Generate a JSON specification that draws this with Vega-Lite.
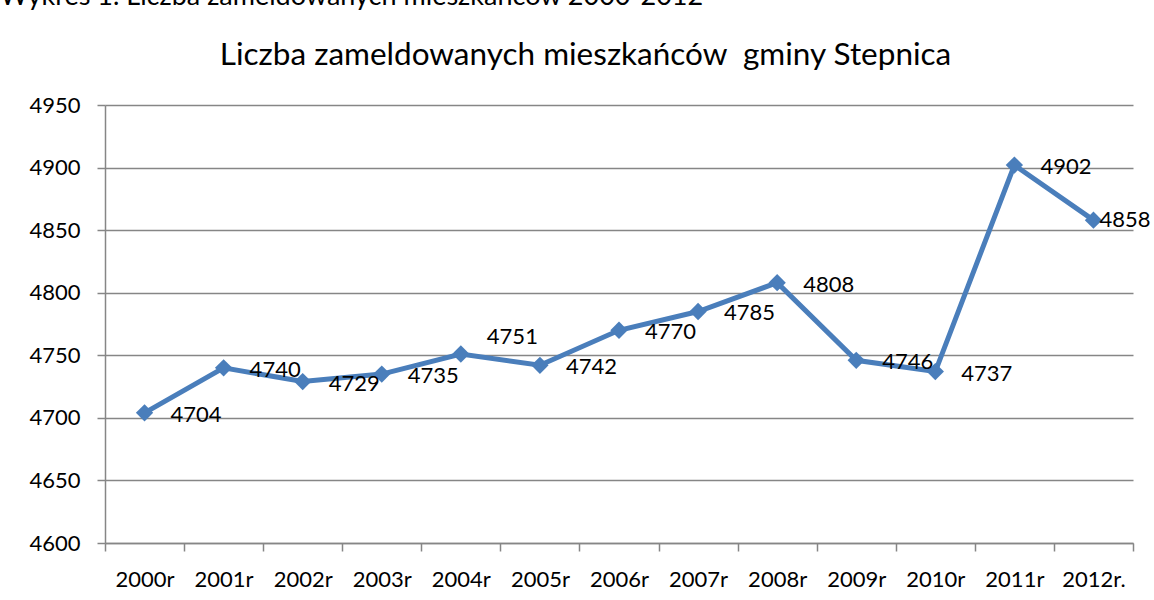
{
  "$schema": "https://vega.github.io/schema/vega-lite/v6.json",
  "width": 1028,
  "height": 438,
  "autosize": {"type": "none"},
  "padding": {"left": 105, "top": 105, "right": 21, "bottom": 57},
  "background": "white",
  "config": {"view": {"stroke": null}, "font": "Lato"},
  "title": {
    "text": "Wykres 1. Liczba zameldowanych mieszkańców 2000-2012",
    "anchor": "start",
    "frame": "group",
    "dx": -105,
    "offset": 28,
    "fontSize": 27,
    "font": "Lato",
    "fontWeight": "normal",
    "color": "black"
  },
  "data": {
    "values": [
      {"rok": "2000r", "liczba": 4704},
      {"rok": "2001r", "liczba": 4740},
      {"rok": "2002r", "liczba": 4729},
      {"rok": "2003r", "liczba": 4735},
      {"rok": "2004r", "liczba": 4751},
      {"rok": "2005r", "liczba": 4742},
      {"rok": "2006r", "liczba": 4770},
      {"rok": "2007r", "liczba": 4785},
      {"rok": "2008r", "liczba": 4808},
      {"rok": "2009r", "liczba": 4746},
      {"rok": "2010r", "liczba": 4737},
      {"rok": "2011r", "liczba": 4902},
      {"rok": "2012r.", "liczba": 4858}
    ]
  },
  "encoding": {
    "x": {
      "field": "rok",
      "type": "nominal",
      "sort": null,
      "scale": {"type": "band", "paddingInner": 0, "paddingOuter": 0}
    },
    "y": {
      "field": "liczba",
      "type": "quantitative",
      "scale": {"domain": [4600, 4950], "zero": false, "nice": false}
    }
  },
  "layer": [
    {
      "mark": {
        "type": "line",
        "color": "#4A7EBB",
        "strokeWidth": 5,
        "point": {"shape": "diamond", "size": 300, "filled": true, "color": "#4A7EBB", "opacity": 1}
      },
      "encoding": {
        "x": {
          "field": "rok",
          "type": "nominal",
          "sort": null,
          "scale": {"type": "band", "paddingInner": 0, "paddingOuter": 0},
          "axis": {
            "title": null,
            "labelAngle": 0,
            "labelFontSize": 22,
            "labelColor": "black",
            "labelPadding": 18,
            "tickBand": "extent",
            "tickSize": 8,
            "tickColor": "#868686",
            "tickWidth": 1.5,
            "domainColor": "#868686",
            "domainWidth": 1.5,
            "grid": false
          }
        },
        "y": {
          "field": "liczba",
          "type": "quantitative",
          "scale": {"domain": [4600, 4950], "zero": false, "nice": false},
          "axis": {
            "title": null,
            "format": "d",
            "values": [4600, 4650, 4700, 4750, 4800, 4850, 4900, 4950],
            "labelFontSize": 22,
            "labelColor": "black",
            "labelPadding": 17,
            "tickSize": 8,
            "tickColor": "#868686",
            "tickWidth": 1.5,
            "domainColor": "#868686",
            "domainWidth": 1.5,
            "grid": true,
            "gridColor": "#868686",
            "gridWidth": 1.5
          }
        }
      }
    },
    {
      "transform": [{"filter": "datum.rok !== '2004r' && datum.rok !== '2012r.'"}],
      "mark": {"type": "text", "align": "left", "baseline": "middle", "dx": 26, "dy": 2, "fontSize": 22, "color": "black"},
      "encoding": {
        "x": {
          "field": "rok",
          "type": "nominal",
          "sort": null,
          "scale": {"type": "band", "paddingInner": 0, "paddingOuter": 0},
          "axis": {
            "orient": "top",
            "labels": false,
            "ticks": false,
            "domain": false,
            "grid": false,
            "title": "Liczba zameldowanych mieszkańców \u00a0gminy Stepnica",
            "titleAnchor": "start",
            "titleAlign": "center",
            "titleX": 480,
            "titleY": -41,
            "titleBaseline": "alphabetic",
            "titleFontSize": 31.5,
            "titleFontWeight": "normal",
            "titleColor": "black"
          }
        },
        "text": {"field": "liczba", "type": "quantitative", "format": "d"}
      }
    },
    {
      "transform": [{"filter": "datum.rok === '2004r'"}],
      "mark": {"type": "text", "align": "left", "baseline": "middle", "dx": 26, "dy": -17, "fontSize": 22, "color": "black"},
      "encoding": {
        "x": {"field": "rok", "type": "nominal", "sort": null, "axis": null},
        "text": {"field": "liczba", "type": "quantitative", "format": "d"}
      }
    },
    {
      "transform": [{"filter": "datum.rok === '2012r.'"}],
      "mark": {"type": "text", "align": "left", "baseline": "middle", "dx": 6, "dy": 0, "fontSize": 22, "color": "black"},
      "encoding": {
        "x": {"field": "rok", "type": "nominal", "sort": null, "axis": null},
        "text": {"field": "liczba", "type": "quantitative", "format": "d"}
      }
    }
  ],
  "resolve": {"axis": {"x": "independent"}}
}
